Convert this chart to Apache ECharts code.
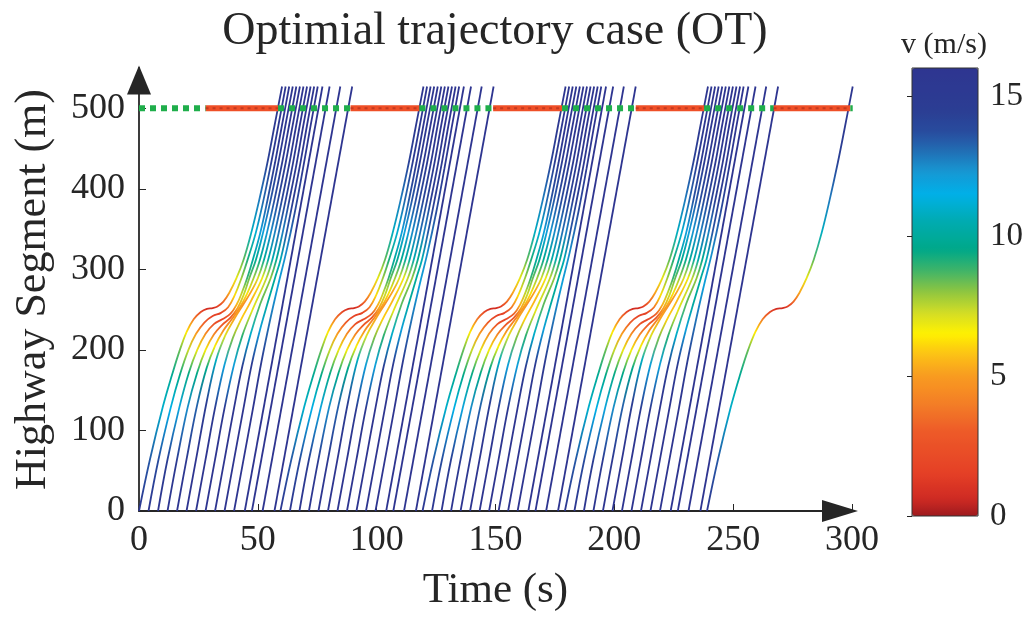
<!DOCTYPE html>
<html><head><meta charset="utf-8">
<script src="https://cdn.jsdelivr.net/npm/echarts@6/dist/echarts.min.js"></script>
<style>html,body{margin:0;padding:0;background:#fff}#c{width:1026px;height:617px}</style>
</head><body><div id="c"></div>
<script>
// ---------------- data ----------------
const timeTicks = [0, 50, 100, 150, 200, 250, 300];
const positionTicks = [0, 100, 200, 300, 400, 500];
const speedTicks = [0, 5, 10, 15];
const speedMax = 16;
const stopLinePos = 500;
// start time of each repeated platoon (s)
const platoonStarts = [0, 59.5, 119.3, 179.2];
// vehicles of one platoon: [time since platoon start (s), position (m), speed (m/s)]
const veh0 = [[0,0,16],[4.6,64,13.5],[10,129,11],[14,170,9.8],[17.2,200,8.4],[20,222,6.4],[23,238,4],[26,247,2.2],[28.6,251,0.9],[31,252,0.6],[33,254,1.6],[35.5,260,3.4],[38,271,5.2],[41,289,6.9],[44,312,8.5],[47.2,345,10.8],[50.5,385,12.8],[54,432,14.3],[57,478,15.3],[60.2,527,15.8]];
const veh1 = [[4,0,16],[8.2,64,13.8],[13.4,129,11.5],[17.3,170,9.5],[20.8,200,7.4],[24,220,5.1],[27.5,234,3.1],[31,242,1.7],[34.5,246,1.7],[37.5,253,3.8],[40.3,268,6.2],[43.1,289,7.9],[45.7,312,9.2],[49.1,345,11.1],[52.3,385,13.2],[55.6,432,14.6],[58.6,478,15.4],[61.7,527,15.9]];
const veh2 = [[8,0,16],[12,64,14.5],[17,129,11.9],[21,172,9.4],[24.5,200,6.9],[28,220,4.6],[31.5,232,2.6],[35,238,1.9],[38.5,245,3.2],[41.2,257,5.6],[43.4,272,7.5],[45.5,289,8.9],[47.9,312,10.1],[51,345,12],[54.2,388,13.6],[57.2,432,15],[60.1,478,15.8],[63.2,527,16]];
const veh3 = [[12,0,16],[16,64,15],[20.5,129,12.5],[24.5,172,9.5],[28,200,6.7],[31.5,219,4.4],[35,231,3],[38.5,240,2.8],[41.5,252,5.2],[44,268,7.3],[46.4,289,8.4],[49.2,312,9.8],[52.15,345,12],[55.3,385,13.5],[58.6,432,14.9],[61.55,478,15.7],[64.7,527,15.9]];
const veh4 = [[16,0,16],[20,64,15.5],[24.5,132,13.3],[28.5,178,9.6],[32,205,6.6],[35.5,224,4.7],[39,238,4.1],[42.5,253,5],[45.5,270,6.3],[48.2,289,7.8],[50.9,312,9.8],[53.8,345,12.3],[56.9,385,13.7],[60.2,432,15],[63.1,478,15.9],[66.2,527,16]];
const veh5 = [[20,0,16],[24,64,16],[28.5,136,14.5],[32.5,188,10.8],[36.3,218,7.1],[40,238,5.2],[44,257,4.7],[47.3,273,5.2],[50,289,7.2],[52.6,312,10],[55.45,345,12.5],[58.45,385,13.9],[61.7,432,15],[64.6,478,15.9],[67.7,527,16]];
const veh6 = [[24,0,16],[28,64,16],[32,128,15],[36,182,12],[39.5,215,8.2],[43,238,6],[47,260,5.5],[51.8,289,6.8],[54.35,312,10.3],[57.1,345,12.7],[60.05,385,14],[63.3,432,15],[66.1,478,15.9],[69.2,527,16]];
const veh7 = [[28,0,16],[32,64,16],[36,128,15.5],[40,182,12],[43.5,218,9],[47.5,248,7],[53.6,289,7.5],[56.1,312,10.5],[58.75,345,13],[61.65,385,14.2],[64.8,432,15.1],[67.6,478,16],[70.7,527,16]];
const veh8 = [[32,0,16],[36,64,16],[40,128,16],[43.5,180,14.5],[47,220,11],[51,257,8.5],[55.4,289,8],[57.8,312,9.8],[60.4,345,12.7],[63.2,385,14.4],[66.35,432,15.3],[69.1,478,16],[72.2,527,16]];
const veh9 = [[36,0,16],[40,64,16],[44,128,16],[47.5,183,15],[51,226,12],[54.3,260,10],[57.2,289,10],[59.55,312,10.6],[62.05,345,13.5],[64.8,385,14.5],[67.9,432,15.3],[70.65,478,16],[73.7,527,16]];
const veh10 = [[40,0,16],[44,64,16],[48,128,16],[51.5,185,15],[55,235,13],[58.5,280,12],[62,322,12.5],[65.5,370,13.8],[69,425,15.2],[72,475,16],[75.2,527,16]];
const veh11 = [[44.5,0,16],[77.2,527,16]];
const veh12 = [[47.5,0,16],[80.2,527,16]];
const veh13 = [[52,0,16],[84.7,527,16]];
const veh14 = [[57,0,16],[89.7,527,16]];
const platoonVehicles = [veh0, veh1, veh2, veh3, veh4, veh5, veh6, veh7, veh8, veh9, veh10, veh11, veh12, veh13, veh14];
// the single last vehicle: [absolute time (s), position (m), speed (m/s)]
const lastVehicle = [[239,0,16],[243.6,64,13.5],[249,129,11],[253,170,9.8],[256.3,200,8.4],[259.3,222,6.4],[262.4,238,4],[265.5,247,2.2],[268.2,251,0.9],[270.8,252,0.6],[272.9,254,1.6],[275.4,260,3.4],[277.9,271,5.2],[280.9,289,6.9],[283.9,312,8.5],[287.2,345,10.8],[290.5,385,12.8],[294,432,14.3],[297.1,478,15.3],[300.3,527,15.8]];
// signal phases at the stop line (s)
const greenPhases = [[0,28],[58.5,89],[118,149],[178,209],[237.8,267],[299.3,300.3]];
const redPhases = [[28,58.5],[89,118],[149,178],[209,237.8],[267,299.3]];

// ---------------- styling ----------------
const FONT = 'Liberation Serif';
const TXT = '#262626';
const cmap = [[0,'#9e1a1e'],[0.6,'#cf2a23'],[1.5,'#e43f26'],[3,'#ed5a28'],[4,'#f37e26'],[5,'#f89b20'],[5.8,'#fcc315'],[6.5,'#fff200'],[7.2,'#d7df23'],[8,'#8fc640'],[8.8,'#3bb36b'],[9.5,'#00a888'],[10.5,'#00abb0'],[11.5,'#00b0e8'],[12.3,'#1797d3'],[13,'#2170b5'],[13.7,'#284c9e'],[14.5,'#2b3d93'],[16,'#2e3590']];
function hex2rgb(h){return [parseInt(h.slice(1,3),16),parseInt(h.slice(3,5),16),parseInt(h.slice(5,7),16)];}
function colorAt(v){
  if (v <= cmap[0][0]) return cmap[0][1];
  for (let i = 1; i < cmap.length; i++) {
    if (v <= cmap[i][0]) {
      const a = cmap[i-1], b = cmap[i], f = (v - a[0]) / (b[0] - a[0]);
      const ca = hex2rgb(a[1]), cb = hex2rgb(b[1]);
      return 'rgb(' + ca.map((c, k) => Math.round(c + (cb[k] - c) * f)).join(',') + ')';
    }
  }
  return cmap[cmap.length-1][1];
}
const barColors = [];
for (let i = 0; i <= 64; i++) barColors.push(colorAt(speedMax * i / 64));

function trajectorySeries(pts, shift) {
  const ps = pts.map(p => p[1]);
  const pMin = Math.min.apply(null, ps), pMax = Math.max.apply(null, ps);
  const stops = pts.map(p => ({offset: (pMax - p[1]) / (pMax - pMin), color: colorAt(p[2])}))
                   .sort((a, b) => a.offset - b.offset);
  return {
    type: 'line', xAxisIndex: 0, yAxisIndex: 0,
    data: pts.map(p => [p[0] + shift, p[1]]),
    smooth: 0.4, showSymbol: false, symbol: 'none',
    silent: true, animation: false, z: 2,
    lineStyle: {width: 1.8, color: {type: 'linear', x: 0, y: 0, x2: 0, y2: 1, colorStops: stops}},
    emphasis: {disabled: true}
  };
}
function phaseData(phases) {
  const d = [];
  phases.forEach(ph => { d.push([ph[0], stopLinePos], [ph[1], stopLinePos], [ph[1], '-']); });
  return d;
}

const series = [];
platoonStarts.forEach(s0 => platoonVehicles.forEach(v => series.push(trajectorySeries(v, s0))));
series.push(trajectorySeries(lastVehicle, 0));
series.push({type: 'line', data: phaseData(redPhases), showSymbol: false, symbol: 'none', silent: true, animation: false, z: 5,
  lineStyle: {width: 6, color: '#ef4f27'}});
series.push({type: 'line', data: phaseData(redPhases), showSymbol: false, symbol: 'none', silent: true, animation: false, z: 6,
  lineStyle: {width: 2, color: '#b3301c', type: [3, 4], opacity: 0.7}});
series.push({type: 'line', data: phaseData(greenPhases), showSymbol: false, symbol: 'none', silent: true, animation: false, z: 5,
  lineStyle: {width: 6, color: '#1fae4b', type: [6, 5]}});
series.push({type: 'scatter', xAxisIndex: 1, yAxisIndex: 1, data: [], silent: true});
const dummyIndex = series.length - 1;

const chart = echarts.init(document.getElementById('c'), null, {renderer: 'canvas'});
chart.setOption({
  backgroundColor: '#ffffff',
  animation: false,
  title: [
    {text: 'Optimial trajectory case (OT)', left: 495, top: 9, textAlign: 'center', padding: 0,
     textStyle: {fontFamily: FONT, fontSize: 46, fontWeight: 'normal', color: TXT}},
    {text: 'v (m/s)', left: 944, top: 30, textAlign: 'center', padding: 0,
     textStyle: {fontFamily: FONT, fontSize: 30, fontWeight: 'normal', color: TXT}}
  ],
  grid: [
    {left: 139, right: 174, top: 68, bottom: 102, containLabel: false},
    {left: 912, top: 68, width: 66, height: 448, show: true, borderColor: '#333', borderWidth: 1, backgroundColor: 'transparent', z: 10}
  ],
  xAxis: [
    {type: 'value', gridIndex: 0, min: 0, max: 300, interval: 50,
     axisLine: {show: true, lineStyle: {color: TXT, width: 1.8}, symbol: ['none', 'triangle'], symbolSize: [22, 36], symbolOffset: [0, -12]},
     axisTick: {show: true, inside: true, length: 7, lineStyle: {color: TXT}, customValues: timeTicks},
     axisLabel: {fontFamily: FONT, fontSize: 36, color: TXT, margin: 12, customValues: timeTicks},
     splitLine: {show: false},
     name: 'Time (s)', nameLocation: 'middle', nameGap: 58,
     nameTextStyle: {fontFamily: FONT, fontSize: 43, color: TXT}},
    {type: 'value', gridIndex: 1, min: 0, max: 1, show: false}
  ],
  yAxis: [
    {type: 'value', gridIndex: 0, min: 0, max: 550, interval: 50,
     axisLine: {show: true, lineStyle: {color: TXT, width: 1.8}, symbol: ['none', 'triangle'], symbolSize: [24, 29], symbolOffset: [0, -12]},
     axisTick: {show: true, inside: true, length: 7, lineStyle: {color: TXT}, customValues: positionTicks},
     axisLabel: {fontFamily: FONT, fontSize: 36, color: TXT, margin: 14, customValues: positionTicks},
     splitLine: {show: false},
     name: 'Highway Segment (m)', nameLocation: 'middle', nameGap: 84, nameRotate: 90,
     nameTextStyle: {fontFamily: FONT, fontSize: 44, color: TXT}},
    {type: 'value', gridIndex: 1, min: 0, max: speedMax, interval: 5, position: 'right', z: 10,
     axisLine: {show: false},
     axisTick: {show: true, inside: true, length: 5, lineStyle: {color: '#222'}, customValues: speedTicks},
     axisLabel: {fontFamily: FONT, fontSize: 33, color: TXT, margin: 12, customValues: speedTicks},
     splitLine: {show: false}}
  ],
  visualMap: {
    type: 'continuous', min: 0, max: speedMax, orient: 'vertical',
    left: 912, top: 68, itemWidth: 66, itemHeight: 448, padding: 0,
    calculable: false, hoverLink: false, seriesIndex: dummyIndex,
    inRange: {color: barColors}, textStyle: {color: 'transparent'}
  },
  series: series
});
</script></body></html>
